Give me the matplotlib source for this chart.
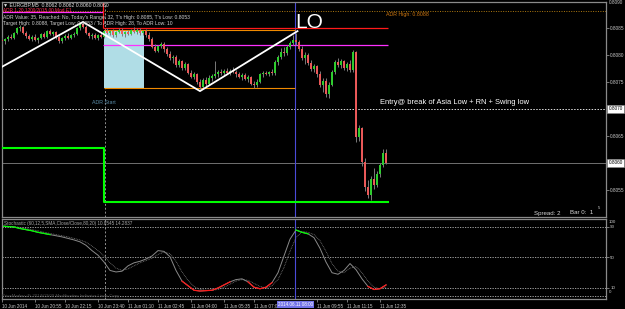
import numpy as np
import matplotlib.pyplot as plt
from matplotlib.patches import Rectangle

plt.rcParams['font.family'] = ['Liberation Sans', 'DejaVu Sans']

# EURGBP M5 candles, in points (price * 1e5)
opens = [80828, 80825, 80830, 80833, 80831, 80841, 80849, 80852, 80840, 80835,
         80830, 80833, 80828, 80831, 80838, 80834, 80844, 80838, 80842, 80833,
         80826, 80831, 80835, 80832, 80836, 80839, 80850, 80857, 80852, 80840,
         80835, 80837, 80832, 80836, 80834, 80844, 80840, 80845, 80837, 80842,
         80847, 80838, 80843, 80839, 80846, 80843, 80847, 80840, 80844, 80836,
         80830, 80815, 80808, 80816, 80820, 80810, 80802, 80794, 80797, 80781,
         80789, 80775, 80783, 80767, 80760, 80765, 80749, 80741, 80754, 80746,
         80758, 80761, 80765, 80769, 80766, 80770, 80767, 80771, 80768, 80764,
         80760, 80762, 80756, 80759, 80747, 80745, 80750, 80764, 80766, 80764,
         80768, 80766, 80786, 80797, 80806, 80803, 80815, 80822, 80828, 80823,
         80811, 80794, 80800, 80785, 80774, 80779, 80764, 80745, 80752, 80728,
         80745, 80768, 80786, 80781, 80789, 80776, 80783, 80772, 80805, 80648,
         80664, 80602, 80555, 80541, 80570, 80560, 80580, 80596, 80618]
highs = [80834, 80832, 80836, 80838, 80843, 80852, 80856, 80854, 80844, 80839,
         80836, 80838, 80834, 80840, 80842, 80846, 80848, 80845, 80844, 80837,
         80834, 80838, 80840, 80839, 80842, 80852, 80860, 80862, 80855, 80843,
         80840, 80841, 80838, 80842, 80846, 80849, 80847, 80848, 80844, 80850,
         80849, 80845, 80847, 80848, 80851, 80849, 80850, 80846, 80848, 80842,
         80833, 80820, 80818, 80824, 80823, 80814, 80808, 80800, 80799, 80792,
         80791, 80786, 80785, 80772, 80768, 80766, 80755, 80757, 80760, 80762,
         80765, 80788, 80772, 80774, 80773, 80776, 80774, 80777, 80772, 80769,
         80766, 80767, 80762, 80761, 80752, 80756, 80766, 80770, 80771, 80770,
         80773, 80790, 80800, 80812, 80814, 80818, 80826, 80836, 80840, 80827,
         80816, 80805, 80803, 80790, 80783, 80782, 80770, 80758, 80757, 80750,
         80772, 80790, 80794, 80792, 80791, 80787, 80790, 80809, 80807, 80670,
         80666, 80610, 80568, 80575, 80590, 80585, 80600, 80626, 80625]
lows = [80820, 80820, 80826, 80829, 80830, 80838, 80845, 80838, 80832, 80828,
        80825, 80826, 80822, 80829, 80831, 80832, 80836, 80835, 80830, 80822,
        80822, 80828, 80829, 80830, 80833, 80837, 80846, 80850, 80838, 80832,
        80829, 80830, 80828, 80831, 80832, 80838, 80836, 80834, 80833, 80840,
        80835, 80834, 80836, 80837, 80841, 80838, 80837, 80836, 80833, 80826,
        80812, 80805, 80806, 80812, 80806, 80798, 80790, 80785, 80778, 80778,
        80772, 80772, 80764, 80757, 80756, 80746, 80737, 80738, 80742, 80744,
        80752, 80757, 80760, 80762, 80763, 80764, 80763, 80766, 80760, 80757,
        80754, 80753, 80750, 80744, 80739, 80741, 80748, 80760, 80762, 80761,
        80763, 80762, 80781, 80792, 80798, 80800, 80811, 80818, 80819, 80808,
        80790, 80783, 80781, 80770, 80768, 80760, 80740, 80731, 80722, 80720,
        80742, 80764, 80778, 80776, 80772, 80770, 80768, 80768, 80639, 80640,
        80595, 80548, 80535, 80531, 80552, 80556, 80574, 80592, 80598]
closes = [80825, 80830, 80833, 80831, 80841, 80849, 80852, 80840, 80835, 80830,
          80833, 80828, 80831, 80838, 80834, 80844, 80838, 80842, 80833, 80826,
          80831, 80835, 80832, 80836, 80839, 80850, 80857, 80852, 80840, 80835,
          80837, 80832, 80836, 80834, 80844, 80840, 80845, 80837, 80842, 80847,
          80838, 80843, 80839, 80846, 80843, 80847, 80840, 80844, 80836, 80830,
          80815, 80808, 80816, 80820, 80810, 80802, 80794, 80797, 80781, 80789,
          80775, 80783, 80767, 80760, 80765, 80749, 80741, 80754, 80746, 80758,
          80761, 80765, 80769, 80766, 80770, 80767, 80771, 80768, 80764, 80760,
          80762, 80756, 80759, 80747, 80745, 80750, 80764, 80766, 80764, 80768,
          80766, 80786, 80797, 80806, 80803, 80815, 80822, 80828, 80823, 80811,
          80794, 80800, 80785, 80774, 80779, 80764, 80745, 80752, 80728, 80745,
          80768, 80786, 80781, 80789, 80776, 80783, 80772, 80805, 80648, 80664,
          80602, 80555, 80541, 80570, 80560, 80580, 80596, 80618, 80600]

# Stochastic (every second bar)
stoch_main = [91, 90.5, 90, 88, 86.5, 85, 83, 81.5, 80, 78.5, 77, 75, 73, 70.5, 66, 59,
              53, 44, 33, 31, 32, 39, 43, 45, 48, 52, 59, 58, 51, 33, 19, 13, 7, 6,
              6.5, 7, 10, 14, 18, 21, 22, 18, 11, 9, 11, 17, 30, 52, 74, 86, 83, 81,
              76, 62, 44, 30, 28, 33, 42, 34, 22, 12, 8, 9, 14]
stoch_signal = [92, 91, 90.5, 89.5, 88, 86.5, 85, 83, 81.5, 80, 78.5, 77, 75, 73, 70, 65,
                59, 52, 43, 36, 33, 35, 39, 43, 46, 49, 54, 57, 55, 45, 31, 20, 12, 8,
                7, 7, 8, 11, 15, 19, 21, 20, 16, 12, 10, 13, 21, 37, 58, 76, 84, 83, 80,
                72, 58, 42, 32, 30, 36, 38, 30, 19, 11, 9, 11]
stoch_levels = [0, 10, 50, 90]

# levels drawn by the ADR / session indicators
adr_high_line = 0.80881
prev_magenta = 0.80879
red_level = 0.80849
asia_high = 0.80847
asia_low = 0.80739
magenta_level = 0.80818
entry_level = 0.8070
bid_level = 0.8060
green_levels = [0.80628, 0.80528]
zigzag_bars = [0, 27, 66, 98.5]
zigzag_prices = [0.80778, 0.80861, 0.80733, 0.80844]
adr_start_bar = 34.0
box_end_bar = 47.3
signal_bar = 97.6
level_end_bar = 128.7

time_bars = [0, 11, 21, 32, 42, 52, 63, 74, 84, 105, 115, 126]
time_labels = ['10 Jun 2014', '10 Jun 20:55', '10 Jun 22:15', '10 Jun 23:40', '11 Jun 01:10',
               '11 Jun 02:45', '11 Jun 04:00', '11 Jun 05:35', '11 Jun 07:00', '11 Jun 09:55',
               '11 Jun 11:15', '11 Jun 12:35']
price_ticks = [0.8055, 0.8065, 0.8075, 0.8080, 0.8085]

o = np.array(opens) / 1e5
h = np.array(highs) / 1e5
l = np.array(lows) / 1e5
c = np.array(closes) / 1e5
bars = np.arange(len(c))
up = c >= o

fig = plt.figure(figsize=(6.25, 3.09), dpi=100, facecolor='black')


def fx(px):
    return px / 625


def fy(py):
    return 1 - py / 309


ax = fig.add_axes([fx(2), fy(217), fx(604), 215 / 309])
ax2 = fig.add_axes([fx(2), fy(299), fx(604), 80 / 309])
frame = '#8a8a8a'
for a in (ax, ax2):
    a.set_facecolor('black')
    for s in a.spines.values():
        s.set_color(frame)
        s.set_linewidth(0.9)
    a.set_xlim(0, 201.33)
ax.set_ylim(0.80500, 0.808979)
ax2.set_ylim(-4.46, 100.46)

# main panel
ax.add_patch(Rectangle((adr_start_bar, asia_low), box_end_bar - adr_start_bar, asia_high - asia_low,
                       fc='#b0dde6', ec='none', zorder=1))
ax.axvline(adr_start_bar + 0.3, color='#909090', lw=0.7, ls=(0, (2, 2)), zorder=0.5)
ax.axvline(signal_bar, color='#4a4ad8', lw=0.8, zorder=2)
ax.axhline(adr_high_line, color='#b07a10', lw=0.7, ls=(0, (1, 1.5)), zorder=1.5)
ax.axhline(entry_level, color='#e0e0e0', lw=0.7, ls=(0, (1.5, 1.5)), zorder=1.5)
ax.axhline(bid_level, color='#707070', lw=0.7, zorder=1.5)
ax.hlines(prev_magenta, 0, adr_start_bar - 0.3, color='#ff30ff', lw=0.9, zorder=2)
ax.hlines(red_level, adr_start_bar - 0.3, level_end_bar, color='#ff1a1a', lw=0.9, zorder=2)
ax.vlines(adr_start_bar - 0.3, red_level, 0.808979, color='#ff1a1a', lw=0.9, zorder=2)
ax.hlines([asia_high, asia_low], adr_start_bar, signal_bar, color='#f08a00', lw=0.8, zorder=2)
ax.hlines(magenta_level, adr_start_bar - 0.3, level_end_bar, color='#ff30ff', lw=0.9, zorder=2)
ax.plot([0, adr_start_bar, adr_start_bar, level_end_bar],
        [green_levels[0], green_levels[0], green_levels[1], green_levels[1]],
        color='#00ff00', lw=1.5, zorder=4)

ax.vlines(bars, l, h, color='#7a7a7a', lw=0.7, zorder=3)
ax.vlines(bars[up], o[up], c[up], color='#2fd02f', lw=1.4, zorder=3.5)
ax.vlines(bars[~up], c[~up], o[~up], color='#ef5a5a', lw=1.4, zorder=3.5)
ax.plot(zigzag_bars, zigzag_prices, color='white', lw=1.3, zorder=5)

ax.set_xticks([])
ax.yaxis.tick_right()
ax.set_yticks(price_ticks)
ax.set_yticklabels(['%.4f' % p for p in price_ticks])
ax.tick_params(axis='y', colors=frame, labelcolor='#c8c8c8', length=2, width=0.6,
               labelsize=3.4, pad=1)
for lv in (entry_level, bid_level):
    ax.text(1.004, lv, '%.4f' % lv, transform=ax.get_yaxis_transform(), ha='left',
            va='center', fontsize=3.4, color='black',
            bbox=dict(boxstyle='square,pad=0.25', fc='white', ec=frame, lw=0.4))
fig.text(fx(609), fy(2.5), '0.8090', fontsize=3.4, color='#c8c8c8', va='center')

# stochastic panel
m = np.array(stoch_main, dtype=float)
s = np.array(stoch_signal, dtype=float)
sx = bars[::2]
for lv in stoch_levels:
    ax2.axhline(lv, color='#b8b8b8', lw=0.6, ls=(0, (1.5, 1.5)))
ax2.axvline(adr_start_bar + 0.3, color='#909090', lw=0.7, ls=(0, (2, 2)))
ax2.axvline(signal_bar, color='#4a4ad8', lw=0.8)
ax2.plot(sx, s, color='#7a7a7a', lw=0.6, ls=(0, (1, 1)))
ax2.plot(sx, m, color='#8a8a8a', lw=0.7)
ax2.plot(sx, np.where(m >= 80, m, np.nan), color='#00ff00', lw=0.9)
ax2.plot(sx, np.where(m <= 20, m, np.nan), color='#ff1a1a', lw=0.9)

ax2.yaxis.tick_right()
ax2.set_yticks([10, 50, 90])
ax2.set_yticklabels(['10', '50', '90'])
ax2.tick_params(axis='y', colors=frame, labelcolor='#c8c8c8', length=2, width=0.6,
                labelsize=3.2, pad=1)
ax2.text(1.004, 96, '100', transform=ax2.get_yaxis_transform(), fontsize=3.2,
         color='#c8c8c8', va='center')
ax2.text(1.004, 4.5, '0', transform=ax2.get_yaxis_transform(), fontsize=3.2,
         color='#c8c8c8', va='center')
ax2.set_xticks(time_bars)
ax2.set_xticklabels(time_labels)
ax2.tick_params(axis='x', colors=frame, labelcolor='#c8c8c8', length=2.5, width=0.6,
                labelsize=3.3, pad=1)
for t in ax2.get_xticklabels():
    t.set_ha('left')

# texts
fig.text(fx(3), fy(5), '▼ EURGBP,M5  0.8062 0.8062 0.8060 0.8060', fontsize=3.7,
         color='#e0e0e0', va='center')
fig.text(fx(3), fy(10.5), 'ADR 1.20 1200/2015.00 Mod E1', fontsize=3.4,
         color='#ff3050', va='center')
fig.text(fx(3), fy(17), "ADR Value: 35, Reached: No, Today's Range: 32, T's High: 0.8085, T's Low: 0.8053",
         fontsize=3.6, color='#d0d0d0', va='center')
fig.text(fx(3), fy(23.5), 'Target High: 0.8088, Target Low: 0.8053 / To ADR High: 28, To ADR Low: 10',
         fontsize=3.6, color='#d0d0d0', va='center')
fig.text(fx(295), fy(28.5), 'LO', fontsize=15, color='white', va='baseline')
fig.text(fx(386), fy(14.5), 'ADR High: 0.8088', fontsize=3.8, color='#d07810', va='center')
fig.text(fx(92), fy(103), 'ADR Start', fontsize=3.8, color='#5a8ca8', va='center')
fig.text(fx(380), fy(103), 'Entry@ break of Asia Low + RN + Swing low', fontsize=5.4,
         color='white', va='center')
fig.text(fx(534), fy(213), 'Spread: 2', fontsize=4.4, color='#d8d8d8', va='center')
fig.text(fx(570), fy(213), 'Bar 0:  1', fontsize=4.4, color='#d8d8d8', va='center')
fig.text(fx(598), fy(208), '5', fontsize=3.0, color='#d8d8d8', va='center')
fig.text(fx(4), fy(224), 'Stochastic (60,12,5,SMA,Close/Close,80,20) 10.8545 14.2837',
         fontsize=3.3, color='#a8a8a8', va='center')
fig.text(fx(2), fy(296), 'PriceMarker+Fi 2014/03/09 Modification Indicator Lines Copy',
         fontsize=3.2, color='#505050', va='center')
fig.text(fx(295.5), fy(304.5), '2014.06.11 08:00', fontsize=3.3, color='white', ha='center',
         va='center', bbox=dict(boxstyle='square,pad=0.3', fc='#7272e8', ec='none'))

fig.savefig('out.png', dpi=100, facecolor='black')
